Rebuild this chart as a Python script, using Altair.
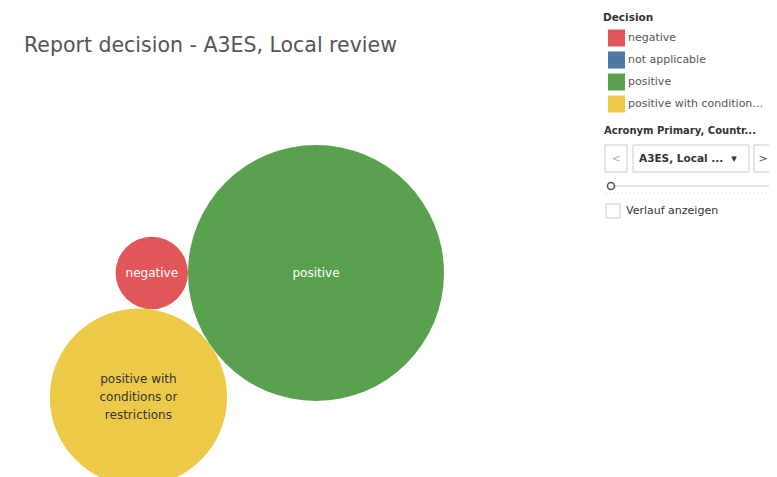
import math
import textwrap
import altair as alt
import pandas as pd

# ---- data -------------------------------------------------------------
decisions = ["negative", "not applicable", "positive",
             "positive with conditions or restrictions"]
counts = [2, 0, 25, 12]
colors = ["#e15759", "#4e79a7", "#59a14f", "#edc948"]
label_colors = ["#ffffff", "#ffffff", "#ffffff", "#333333"]

title_text = "Report decision - A3ES, Local review"
legend_title = "Decision"
filter_title = "Acronym Primary, Countr..."
filter_value = "A3ES, Local ..."
history_label = "Verlauf anzeigen"

# ---- layout constants --------------------------------------------------
W, H = 761, 469
R_MAX = 128.0            # radius of the largest bubble in px
CENTER = (308.0, 265.0)  # where the pack is anchored (largest bubble)
FONT = "DejaVu Sans"
LINE_H = 18

cmax = max(counts)


def radius(c):
    return R_MAX * math.sqrt(c / cmax)


# ---- simple bubble packing --------------------------------------------
idx = [i for i, c in enumerate(counts) if c > 0]
idx.sort(key=lambda i: -counts[i])
order = [idx[0]] + sorted(idx[1:], key=lambda i: counts[i])

pos = {}
first = order[0]
pos[first] = (0.0, 0.0)
if len(order) > 1:
    s = order[1]
    pos[s] = (-(radius(counts[first]) + radius(counts[s])), 0.0)


def tangent(a, b, r):
    (ax, ay), ra = pos[a], radius(counts[a])
    (bx, by), rb = pos[b], radius(counts[b])
    dA, dB = ra + r, rb + r
    d = math.hypot(bx - ax, by - ay)
    aa = (dA ** 2 - dB ** 2 + d ** 2) / (2 * d)
    h = math.sqrt(max(dA ** 2 - aa ** 2, 0))
    ux, uy = (bx - ax) / d, (by - ay) / d
    px, py = ax + aa * ux, ay + aa * uy
    c1 = (px - h * uy, py + h * ux)
    c2 = (px + h * uy, py - h * ux)
    return c1 if c1[1] > c2[1] else c2


for k in order[2:]:
    pos[k] = tangent(order[0], order[1], radius(counts[k]))

rows = []
for i in order:
    lines = textwrap.wrap(decisions[i], 14)
    cy = CENTER[1] + pos[i][1]
    rows.append({
        "decision": decisions[i],
        "count": counts[i],
        "px": CENTER[0] + pos[i][0],
        "py": cy,
        "ly": cy - (len(lines) - 1) * LINE_H / 2,
        "label": "\n".join(lines),
        "label_color": label_colors[i],
    })
df = pd.DataFrame(rows)

xs = alt.Scale(domain=[0, W])
ys = alt.Scale(domain=[0, H], reverse=True)

# Vega symbol size is the area of the bounding square: (2r)^2
bubbles = alt.Chart(df).mark_circle(opacity=1).encode(
    x=alt.X("px:Q", scale=xs, axis=None),
    y=alt.Y("py:Q", scale=ys, axis=None),
    size=alt.Size("count:Q",
                  scale=alt.Scale(domain=[0, cmax],
                                  range=[0, 4 * R_MAX ** 2]),
                  legend=None),
    color=alt.Color("decision:N",
                    scale=alt.Scale(domain=decisions, range=colors),
                    legend=alt.Legend(
                        title=legend_title, orient="none",
                        legendX=595, legendY=5, padding=0,
                        titleFont=FONT, titleFontSize=10.5,
                        titleFontWeight="bold", titleColor="#333333",
                        titlePadding=6,
                        labelFont=FONT, labelFontSize=11,
                        labelColor="#555555", labelLimit=138,
                        labelOffset=3,
                        symbolType="square", symbolSize=289,
                        symbolStrokeWidth=0, symbolOpacity=1,
                        symbolOffset=5, rowPadding=5)),
    tooltip=["decision:N", "count:Q"],
)

labels = alt.Chart(df).mark_text(
    font=FONT, fontSize=12, lineBreak="\n", lineHeight=LINE_H,
    align="center", baseline="middle",
).encode(
    x=alt.X("px:Q", scale=xs, axis=None),
    y=alt.Y("ly:Q", scale=ys, axis=None),
    text="label:N",
    fill=alt.Fill("label_color:N", scale=None),
)

# ---- filter-control decorations -----------------------------------------
deco = pd.DataFrame({"k": [0]})


def box(x1, y1, x2, y2, stroke="#cccccc"):
    return alt.Chart(deco).mark_rect(fill="white", stroke=stroke,
                                     strokeWidth=1).encode(
        x=alt.value(x1), x2=alt.value(x2), y=alt.value(y1), y2=alt.value(y2))


def txt(x, y, t, size=11, weight="normal", color="#333333", align="left",
        limit=0):
    kw = dict(font=FONT, fontSize=size, fontWeight=weight, color=color,
              align=align, baseline="middle")
    if limit:
        kw["limit"] = limit
    return alt.Chart(deco).mark_text(**kw).encode(
        x=alt.value(x), y=alt.value(y), text=alt.value(t))


def rule(x1, x2, y, color="#cccccc", dash=None):
    kw = {"color": color, "strokeWidth": 1}
    if dash:
        kw["strokeDash"] = dash
    return alt.Chart(deco).mark_rule(**kw).encode(
        x=alt.value(x1), x2=alt.value(x2), y=alt.value(y))


decor = [
    txt(596, 123, filter_title, size=10, weight="bold", limit=164),
    box(597, 137, 619, 164), txt(608, 151, "<", color="#aaaaaa", align="center"),
    box(625, 137, 741, 164),
    txt(631, 151, filter_value, size=10.5, weight="bold"),
    txt(726, 151, "▾", size=11, color="#333333", align="center"),
    box(746, 137, 765, 164), txt(755, 151, ">", color="#555555", align="center"),
    rule(607, 763, 178),
    rule(598, 762, 185, dash=[1, 3]),
    alt.Chart(deco).mark_point(filled=True, fill="white", stroke="#555555",
                               strokeWidth=1.5, size=50, opacity=1).encode(
        x=alt.value(603), y=alt.value(178)),
    box(598, 196, 612, 210, stroke="#cccccc"),
    txt(618, 203, history_label, size=11),
]

chart = alt.layer(bubbles, labels, *decor).properties(
    width=W, height=H,
    autosize=alt.AutoSizeParams(type="none"),
    padding=0,
    title=alt.TitleParams(title_text, anchor="start", font=FONT,
                          fontSize=20.5, fontWeight="normal",
                          color="#555555", dx=16, dy=48, offset=0),
).configure_view(stroke=None)

chart.save("out.html", embed_options={"renderer": "svg", "actions": False})
